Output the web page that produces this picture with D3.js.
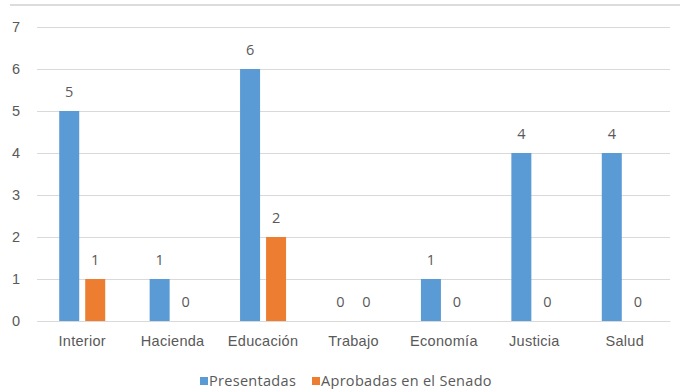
<!DOCTYPE html>
<html>
<head>
<meta charset="utf-8">
<script src="https://cdn.jsdelivr.net/npm/d3@7"></script>
<style>
  html, body { margin: 0; padding: 0; background: #fff; }
  svg { display: block; font-family: "Open Sans", "Liberation Sans", sans-serif; }
</style>
</head>
<body>
<svg id="chart" width="682" height="389"></svg>
<script>
// Proyectos por ministerio
const categories = ["Interior", "Hacienda", "Educación", "Trabajo", "Economía", "Justicia", "Salud"];
const presentadas = [5, 1, 6, 0, 1, 4, 4];
const aprobadas = [1, 0, 2, 0, 0, 0, 0];
const seriesNames = ["Presentadas", "Aprobadas en el Senado"];
const seriesColors = ["#5B9BD5", "#ED7D31"];
const yTicks = [0, 1, 2, 3, 4, 5, 6, 7];

const svg = d3.select("#chart");
const textColor = "#595959";
const fontSize = "14.5px";

const left = 37, plotW = 633;

const x = d3.scaleBand().domain(categories).range([left, left + plotW]).padding(0);
const y = d3.scaleLinear().domain([0, 7]).range([321, 27]);

// top rule
svg.append("line")
  .attr("x1", 10).attr("x2", 680).attr("y1", 5).attr("y2", 5)
  .attr("stroke", "#dcdcdc").attr("stroke-width", 2);

// gridlines and value axis
const yAxis = d3.axisLeft(y).tickValues(yTicks).tickSize(-plotW).tickFormat(d3.format("d")).tickPadding(17);
const gAxis = svg.append("g").attr("transform", `translate(${left},0)`).call(yAxis);
gAxis.select(".domain").remove();
gAxis.selectAll(".tick line").attr("stroke", "#d9d9d9").attr("stroke-width", 1.2);
gAxis.selectAll(".tick text").attr("fill", textColor).style("font-size", fontSize);

// category axis
const xAxis = d3.axisBottom(x).tickSize(0).tickPadding(15);
const gx = svg.append("g").attr("transform", `translate(0,${y(0)})`).call(xAxis);
gx.select(".domain").attr("stroke", "#d9d9d9").attr("stroke-width", 1.2);
gx.selectAll(".tick text").attr("fill", textColor).style("font-size", fontSize).style("letter-spacing", "0.3px");

const barW = 20, gap = 6;
const sub = d3.scaleOrdinal().domain([0, 1]).range([-(gap / 2 + barW), gap / 2]);

const data = categories.map((c, i) => ({ c, vals: [presentadas[i], aprobadas[i]] }));

const groups = svg.append("g").selectAll("g").data(data).join("g")
  .attr("transform", d => `translate(${x(d.c) + x.bandwidth() / 2},0)`);

groups.selectAll("rect").data(d => d.vals.map((v, k) => ({ v, k }))).join("rect")
  .attr("x", d => sub(d.k))
  .attr("width", barW)
  .attr("y", d => y(d.v))
  .attr("height", d => y(0) - y(d.v))
  .attr("fill", d => seriesColors[d.k]);

groups.selectAll("text.val").data(d => d.vals.map((v, k) => ({ v, k }))).join("text")
  .attr("class", "val")
  .attr("x", d => sub(d.k) + barW / 2)
  .attr("y", d => y(d.v) - 14)
  .attr("text-anchor", "middle")
  .attr("fill", textColor)
  .style("font-size", fontSize)
  .text(d => d.v);

// legend
const legend = svg.append("g").attr("transform", "translate(200,381)");
const offsets = [0, 112];
seriesNames.forEach((name, i) => {
  const g = legend.append("g").attr("transform", `translate(${offsets[i]},0)`);
  g.append("rect").attr("x", 0).attr("y", -4).attr("width", 8).attr("height", 8).attr("fill", seriesColors[i]);
  g.append("text").attr("x", 9).attr("y", 5).attr("fill", textColor)
    .style("font-size", fontSize).style("letter-spacing", "0.3px").text(name);
});
</script>
</body>
</html>
